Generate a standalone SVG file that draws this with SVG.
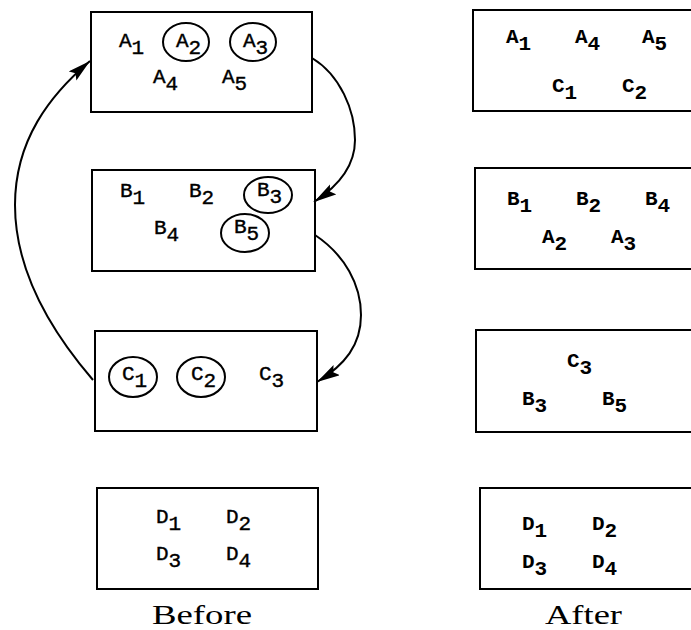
<svg xmlns="http://www.w3.org/2000/svg" width="691" height="630" viewBox="0 0 691 630">
<style>
.box{fill:none;stroke:#000;stroke-width:2}
.ring{fill:none;stroke:#000;stroke-width:2}
.t{font-family:"Liberation Mono","DejaVu Sans Mono",monospace;font-size:21px;fill:#000;stroke:#000;stroke-width:0.4}
.b{font-weight:bold;stroke-width:0}
.lbl{font-family:"Liberation Serif","Times New Roman",serif;font-size:28px;fill:#000}
.con{fill:none;stroke:#000;stroke-width:2}
</style>
<defs>
<marker id="ah" markerUnits="userSpaceOnUse" markerWidth="26" markerHeight="14" refX="23" refY="6" orient="auto">
<path d="M0,0 L23,6 L0,12 L4,6 z" fill="#000"/>
</marker>
</defs>
<rect width="691" height="630" fill="#fff"/>
<g id="before-a">
<rect class="box" x="91" y="12" width="221" height="100"/>
<ellipse class="ring" cx="186" cy="42" rx="23" ry="19"/>
<ellipse class="ring" cx="253" cy="42" rx="23" ry="19"/>
<text class="t" x="119" y="47">A<tspan dy="7">1</tspan></text>
<text class="t" x="176" y="47">A<tspan dy="7">2</tspan></text>
<text class="t" x="243" y="47">A<tspan dy="7">3</tspan></text>
<text class="t" x="153" y="83">A<tspan dy="7">4</tspan></text>
<text class="t" x="222" y="83">A<tspan dy="7">5</tspan></text>
</g>
<g id="before-b">
<rect class="box" x="92" y="170" width="223" height="101"/>
<ellipse class="ring" cx="268" cy="195" rx="24" ry="18"/>
<ellipse class="ring" cx="245" cy="233" rx="24" ry="19"/>
<text class="t" x="120" y="197">B<tspan dy="7">1</tspan></text>
<text class="t" x="189" y="197">B<tspan dy="7">2</tspan></text>
<text class="t" x="257" y="196">B<tspan dy="7">3</tspan></text>
<text class="t" x="154" y="234">B<tspan dy="7">4</tspan></text>
<text class="t" x="234" y="233">B<tspan dy="7">5</tspan></text>
</g>
<g id="before-c">
<rect class="box" x="95" y="331" width="222" height="100"/>
<ellipse class="ring" cx="133" cy="377" rx="24" ry="20"/>
<ellipse class="ring" cx="201" cy="377" rx="24" ry="20"/>
<text class="t" x="122" y="380">C<tspan dy="7">1</tspan></text>
<text class="t" x="191" y="380">C<tspan dy="7">2</tspan></text>
<text class="t" x="259" y="380">C<tspan dy="7">3</tspan></text>
</g>
<g id="before-d">
<rect class="box" x="97" y="488" width="221" height="101"/>
<text class="t" x="156" y="523">D<tspan dy="7">1</tspan></text>
<text class="t" x="226" y="523">D<tspan dy="7">2</tspan></text>
<text class="t" x="156" y="560">D<tspan dy="7">3</tspan></text>
<text class="t" x="226" y="560">D<tspan dy="7">4</tspan></text>
</g>
<g id="after-a">
<rect class="box" x="473" y="10" width="240" height="101"/>
<text class="t b" x="506" y="43">A<tspan dy="7">1</tspan></text>
<text class="t b" x="575" y="43">A<tspan dy="7">4</tspan></text>
<text class="t b" x="642" y="43">A<tspan dy="7">5</tspan></text>
<text class="t b" x="552" y="92">C<tspan dy="7">1</tspan></text>
<text class="t b" x="622" y="92">C<tspan dy="7">2</tspan></text>
</g>
<g id="after-b">
<rect class="box" x="475" y="168" width="240" height="101"/>
<text class="t b" x="507" y="205">B<tspan dy="7">1</tspan></text>
<text class="t b" x="576" y="205">B<tspan dy="7">2</tspan></text>
<text class="t b" x="645" y="205">B<tspan dy="7">4</tspan></text>
<text class="t b" x="542" y="243">A<tspan dy="7">2</tspan></text>
<text class="t b" x="611" y="243">A<tspan dy="7">3</tspan></text>
</g>
<g id="after-c">
<rect class="box" x="476" y="330" width="240" height="102"/>
<text class="t b" x="567" y="367">C<tspan dy="7">3</tspan></text>
<text class="t b" x="522" y="405">B<tspan dy="7">3</tspan></text>
<text class="t b" x="602" y="405">B<tspan dy="7">5</tspan></text>
</g>
<g id="after-d">
<rect class="box" x="480" y="488" width="240" height="101"/>
<text class="t b" x="522" y="530">D<tspan dy="7">1</tspan></text>
<text class="t b" x="592" y="530">D<tspan dy="7">2</tspan></text>
<text class="t b" x="522" y="568">D<tspan dy="7">3</tspan></text>
<text class="t b" x="592" y="568">D<tspan dy="7">4</tspan></text>
</g>
<g id="labels">
<text class="lbl" x="152" y="624" textLength="100" lengthAdjust="spacingAndGlyphs">Before</text>
<text class="lbl" x="545" y="624" textLength="77" lengthAdjust="spacingAndGlyphs">After</text>
</g>
<g id="connectors">
<path class="con" d="M93,380 C50,330 15,270 15,205 C15,140 50,95 90,61" marker-end="url(#ah)"/>
<path class="con" d="M312,58 C340,75 355,110 355,140 C355,165 340,185 314,202" marker-end="url(#ah)"/>
<path class="con" d="M315,235 C345,255 361,285 361,315 C361,345 345,365 317,382" marker-end="url(#ah)"/>
</g>
</svg>
